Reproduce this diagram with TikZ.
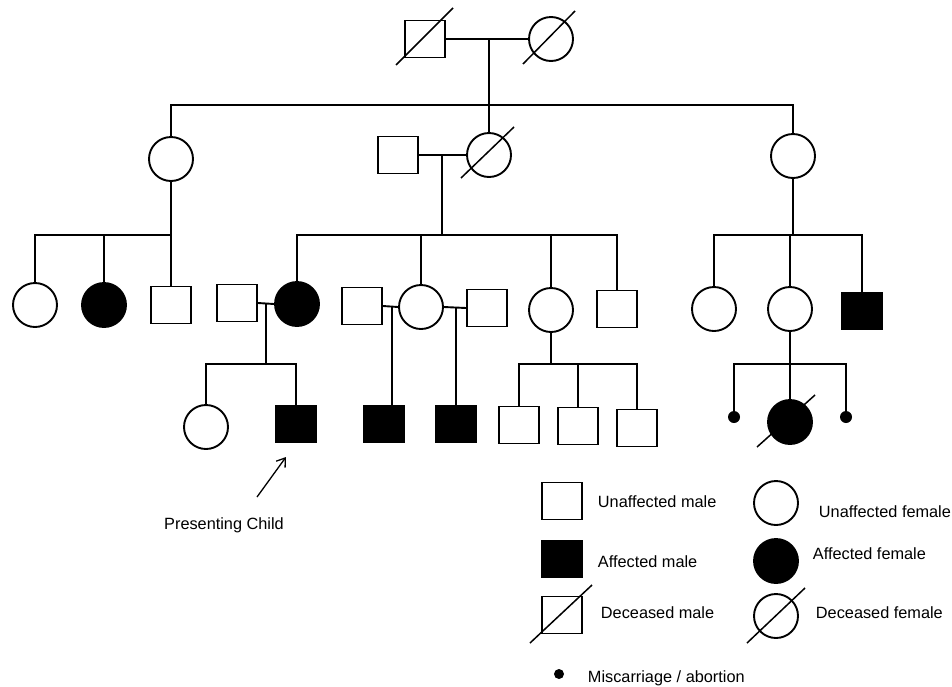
\documentclass[tikz,border=0pt]{standalone}
\usepackage{fontspec}
\setmainfont{Liberation Sans}
\usetikzlibrary{arrows.meta}
\begin{document}
\begin{tikzpicture}[x=1pt,y=-1pt,line width=1.9pt,
  male/.style={draw,rectangle,minimum width=40pt,minimum height=37pt,inner sep=0pt,line width=1.9pt},
  female/.style={draw,circle,minimum size=44pt,inner sep=0pt,line width=1.9pt},
  aff/.style={fill=black},
  mdot/.style={circle,fill=black,minimum size=12pt,inner sep=0pt},
  lab/.style={anchor=west,font=\fontsize{16.3}{19}\selectfont,inner sep=0pt},
  slash/.style={line width=1.5pt}]
\useasboundingbox (0,0) rectangle (952,686);
% generation 1
\node[male] (gf) at (425,39) {};
\node[female] (gm) at (551,39) {};
\draw[slash] (gf.center) ++(-29,26) -- ++(57,-57);
\draw[slash] (gm.center) ++(-28,25) -- ++(52,-53);
\draw (gf.east) -- (gm.west);
\coordinate (m1) at (489,39);
\coordinate (s1) at (489,105);
\draw (m1) -- (s1);
% generation 2
\node[female] (a) at (171,159) {};
\node[male] (b) at (398,155) {};
\node[female] (c) at (489,155) {};
\draw[slash] (c.center) ++(-28,23) -- ++(53,-51);
\node[female] (d) at (793,156) {};
\draw (a.north) |- (s1) -| (d.north);
\draw (c.north) -- (c.north |- s1);
\draw (b.east) -- (c.west);
\coordinate (m2) at (442,155);
\coordinate (s2) at (442,235);
\draw (m2) -- (s2);
% generation 3 left
\node[female] (a1) at (35,305) {};
\node[female,aff] (a2) at (104,305) {};
\node[male] (a3) at (171,305) {};
\draw (a.south) -- (a3.north);
\coordinate (sa) at (171,235);
\draw (a1.north) |- (sa);
\draw (a2.north) -- (a2.north |- sa);
% generation 3 middle
\node[male] (c1h) at (237,303) {};
\node[female,aff] (c1) at (297,304) {};
\node[male] (c2h) at (362,306) {};
\node[female] (c2) at (421,307) {};
\node[male] (c2k) at (487,308) {};
\node[female] (c3) at (551,310) {};
\node[male] (c4) at (617,309) {};
\draw (c1.north) |- (s2) -| (c4.north);
\draw (c2.north) -- (c2.north |- s2);
\draw (c3.north) -- (c3.north |- s2);
\draw (c1h.east) -- (c1.west);
\draw (c2h.east) -- (c2.west);
\draw (c2.east) -- (c2k.west);
% generation 3 right
\node[female] (d1) at (714,309) {};
\node[female] (d2) at (790,309) {};
\node[male,aff] (d3) at (862,311) {};
\coordinate (sd) at (793,235);
\draw (d.south) -- (sd);
\draw (d1.north) |- (sd) -| (d3.north);
\draw (d2.north) -- (d2.north |- sd);
% generation 4
\node[female] (e1) at (206,427) {};
\node[male,aff] (e2) at (296,424) {};
\coordinate (m3) at (266,303);
\coordinate (s3) at (266,364);
\draw (m3) -- (s3);
\draw (e1.north) |- (s3) -| (e2.north);
\node[male,aff] (f1) at (384,424) {};
\coordinate (m4) at (392,306);
\draw (m4) -- (m4 |- f1.north);
\node[male,aff] (g1) at (456,424) {};
\coordinate (m5) at (456,308);
\draw (m5) -- (g1.north);
\node[male] (h1) at (519,425) {};
\node[male] (h2) at (578,426) {};
\node[male] (h3) at (637,428) {};
\coordinate (s4) at (551,364);
\draw (c3.south) -- (s4);
\draw (h1.north) |- (s4) -| (h3.north);
\draw (h2.north) -- (h2.north |- s4);
\node[mdot] (i1) at (734,417) {};
\node[female,aff] (i2) at (790,422) {};
\node[mdot] (i3) at (846,417) {};
\draw[slash] (i2.center) ++(-33,25) -- ++(58,-52);
\coordinate (s5) at (790,364);
\draw (d2.south) -- (s5);
\draw (i1.center) |- (s5) -| (i3.center);
\draw (s5) -- (i2.north);
% presenting child
\coordinate (arS) at (257,497);
\coordinate (arE) at (286,457);
\draw[line width=1.3pt,-{Straight Barb[length=8pt,width=11pt]}] (arS) -- (arE);
\node[font=\fontsize{16.3}{19}\selectfont,inner sep=0pt] (pc) at (224,525) {Presenting Child};
% legend
\node[male] (L1) at (562,501) {};
\node[lab] (L1t) at (597,502) {Unaffected male};
\node[male,aff] (L2) at (562,559) {};
\node[lab] (L2t) at (597,562) {Affected male};
\node[male] (L3) at (562,615) {};
\draw[slash] (L3.center) ++(-32,28) -- ++(62,-58);
\node[lab] (L3t) at (600,613) {Deceased male};
\node[female] (L4) at (776,503) {};
\node[lab] (L4t) at (818,512) {Unaffected female};
\node[female,aff] (L5) at (776,561) {};
\node[lab] (L5t) at (812,554) {Affected female};
\node[female] (L6) at (776,616) {};
\draw[slash] (L6.center) ++(-29,27) -- ++(58,-55);
\node[lab] (L6t) at (815,613) {Deceased female};
\node[mdot,minimum size=10pt] (L7) at (559,674) {};
\node[lab] (L7t) at (587,678) {Miscarriage / abortion};
\end{tikzpicture}
\end{document}
